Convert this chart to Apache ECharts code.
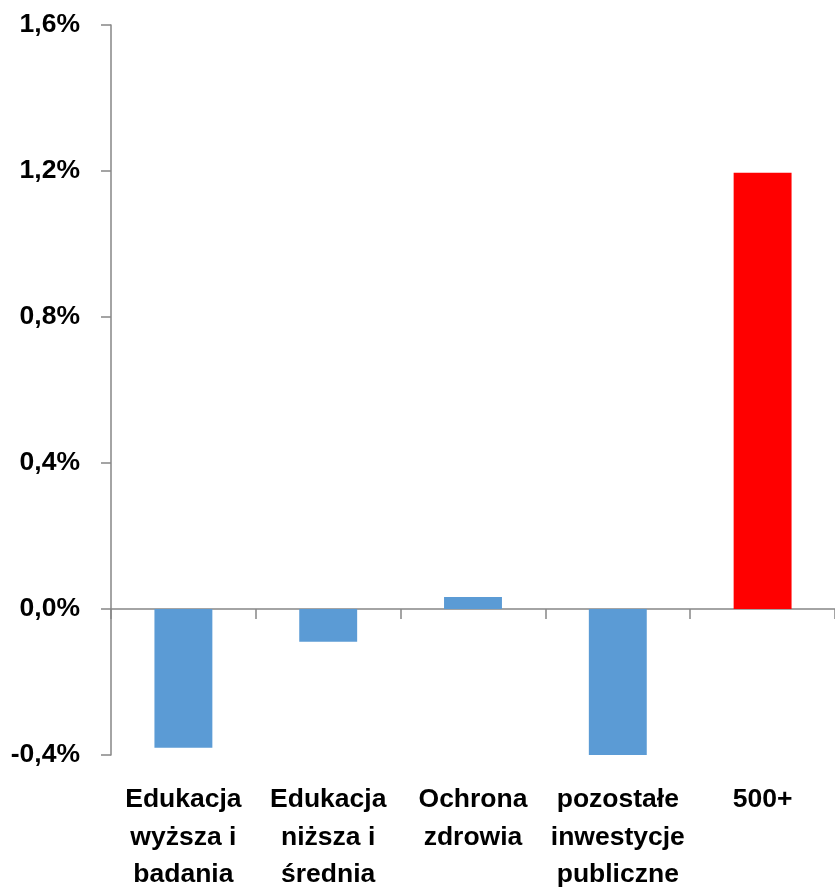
<!DOCTYPE html>
<html>
<head>
<meta charset="utf-8">
<script src="https://cdn.jsdelivr.net/npm/echarts@6/dist/echarts.min.js"></script>
<style>
html,body{margin:0;padding:0;background:#fff;}
#chart{width:835px;height:891px;}
</style>
</head>
<body>
<div id="chart"></div>
<script>
const categories = ['Edukacja\nwyższa i\nbadania', 'Edukacja\nniższa i\nśrednia', 'Ochrona\nzdrowia', 'pozostałe\ninwestycje\npubliczne', '500+'];
const values = [-0.38, -0.09, 0.033, -0.405, 1.195];
const highlightCategory = '500+';

const FONT = '"Liberation Sans", Arial, sans-serif';
const chart = echarts.init(document.getElementById('chart'));
chart.setOption({
  animation: false,
  backgroundColor: '#ffffff',
  grid: { left: 111, right: 0, top: 25, bottom: 136, containLabel: false, outerBoundsMode: 'none' },
  xAxis: [
    {
      type: 'category',
      data: categories,
      axisLine: { onZero: true, lineStyle: { color: '#868686', width: 1.5 } },
      axisTick: { show: true, length: 10, alignWithLabel: false, lineStyle: { color: '#868686', width: 1.5 } },
      axisLabel: { show: false },
      splitLine: { show: false }
    },
    {
      type: 'category',
      data: categories,
      position: 'bottom',
      axisLine: { show: false, onZero: false },
      axisTick: { show: false },
      splitLine: { show: false },
      axisLabel: {
        show: true, interval: 0, margin: 26,
        color: '#000', fontWeight: 'bold', fontSize: 26.5, fontFamily: FONT,
        lineHeight: 37.5
      }
    }
  ],
  yAxis: {
    type: 'value',
    min: -0.4, max: 1.6, interval: 0.4,
    axisLine: { show: true, lineStyle: { color: '#868686', width: 1.5 } },
    axisTick: { show: true, length: 10, lineStyle: { color: '#868686', width: 1.5 } },
    splitLine: { show: false },
    axisLabel: {
      margin: 31,
      color: '#000', fontWeight: 'bold', fontSize: 26.5, fontFamily: FONT,
      padding: [6, 0, 0, 0],
      formatter: function (v) { return v.toFixed(1).replace('.', ',') + '%'; }
    }
  },
  series: [{
    type: 'bar',
    xAxisIndex: 0,
    data: values,
    barWidth: '40%',
    itemStyle: {
      color: function (p) { return p.name === highlightCategory ? '#FF0000' : '#5B9BD5'; }
    }
  }]
});
</script>
</body>
</html>
